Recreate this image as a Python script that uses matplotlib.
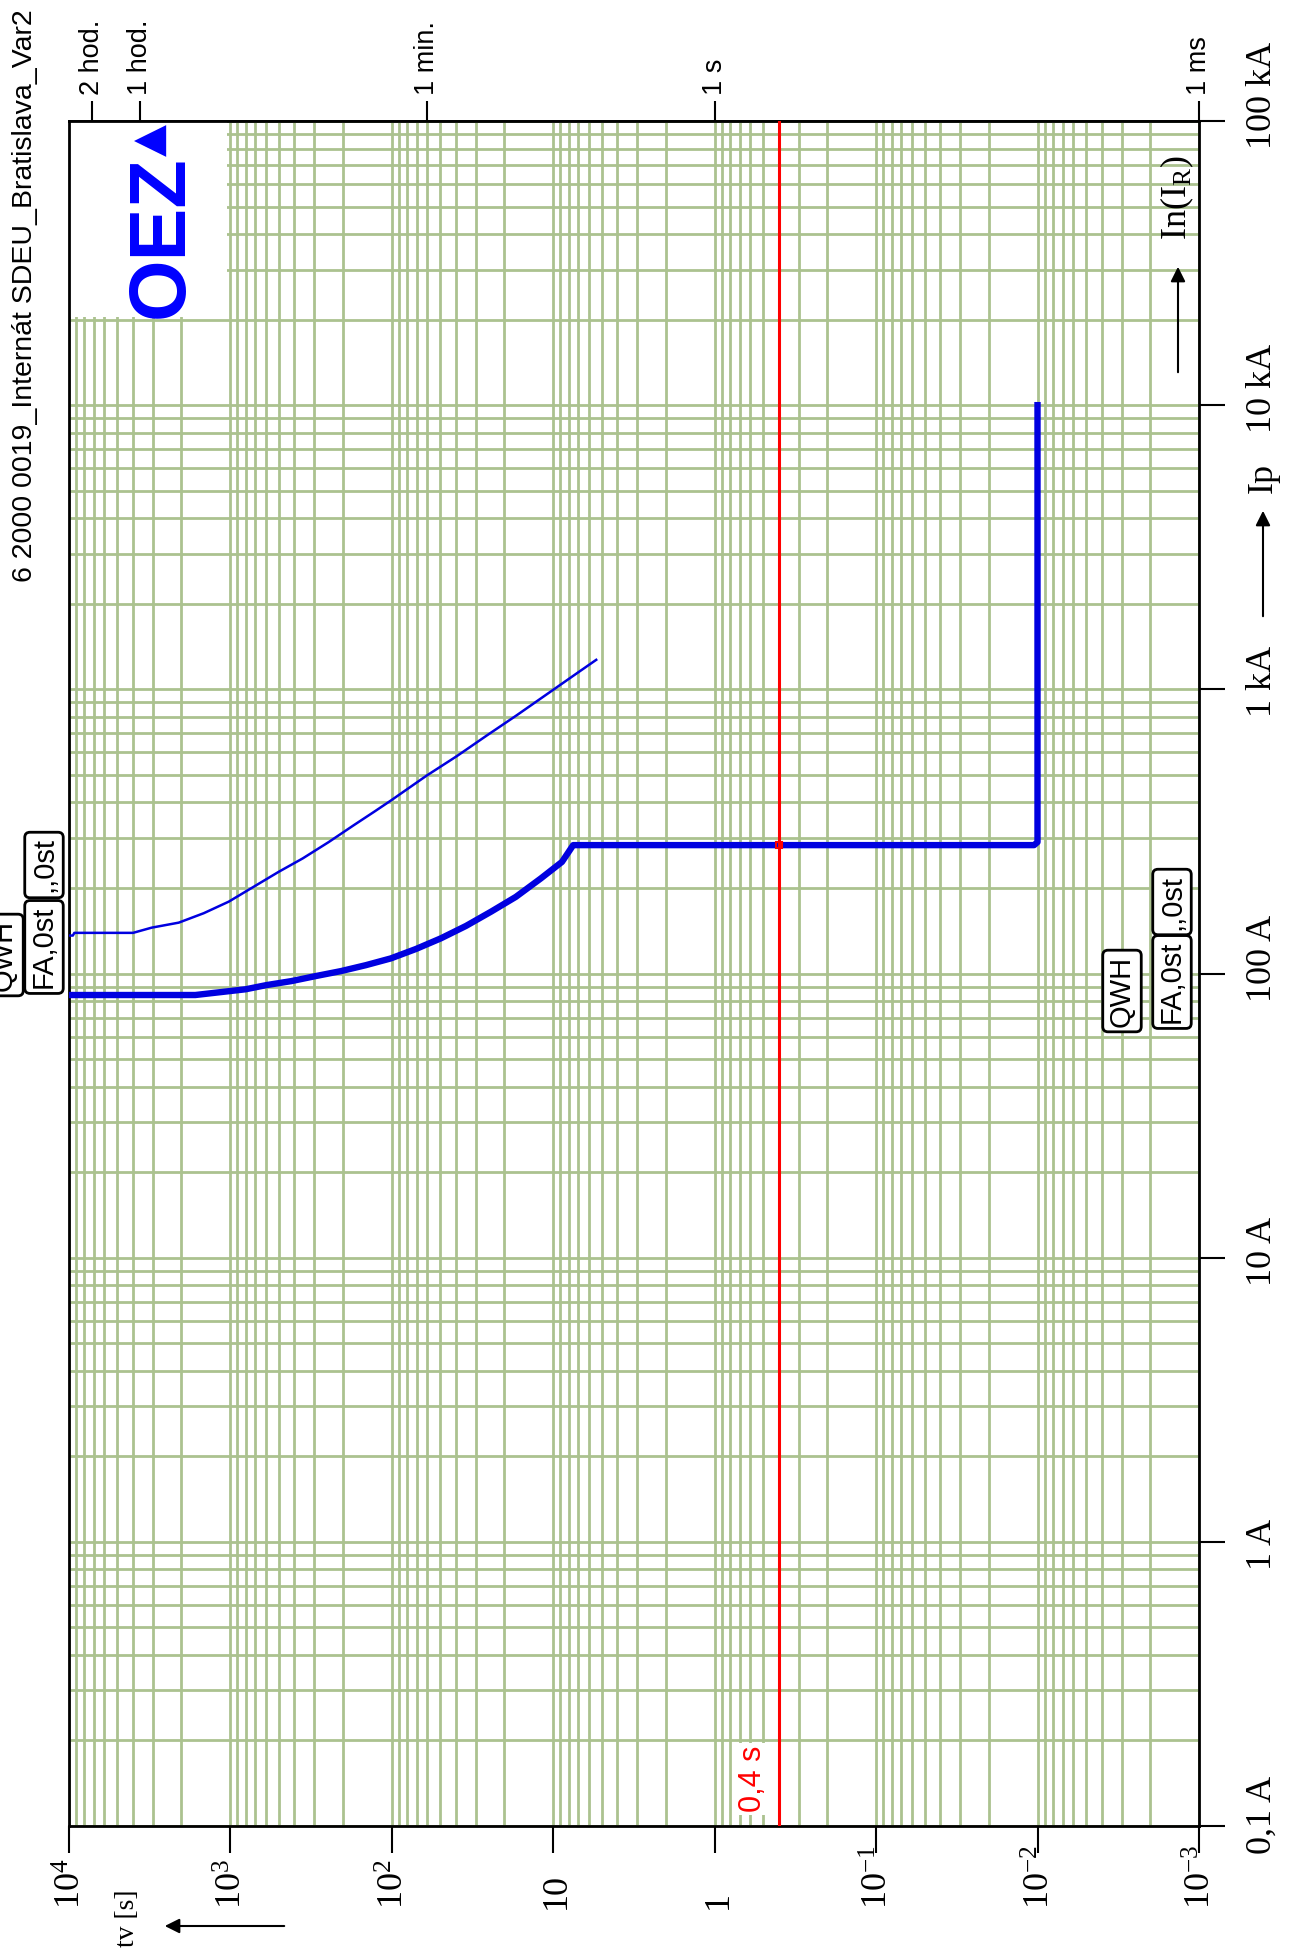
import numpy as np
import matplotlib
matplotlib.use('Agg')
import matplotlib.pyplot as plt
import matplotlib.font_manager as fm
from matplotlib.ticker import LogLocator, NullLocator
from matplotlib.patches import Rectangle

W, H = 1295, 1955

TITLE = '6 2000 0019_Internát SDEU_Bratislava_Var2'

# time axis (horizontal, log, decreasing to the right)
TIME_TICKS = [1e4, 1e3, 1e2, 1e1, 1, 1e-1, 1e-2, 1e-3]
TIME_LABELS = [r'$\mathregular{10^{4}}$', r'$\mathregular{10^{3}}$', r'$\mathregular{10^{2}}$',
               '10', '1', r'$\mathregular{10^{-1}}$', r'$\mathregular{10^{-2}}$',
               r'$\mathregular{10^{-3}}$']
TOP_TICKS = [7200, 3600, 60, 1, 0.001]
TOP_LABELS = ['2 hod.', '1 hod.', '1 min.', '1 s', '1 ms']

# current axis (vertical, log)
CURRENT_TICKS = [0.1, 1, 10, 100, 1e3, 1e4, 1e5]
CURRENT_LABELS = ['0,1 A', '1 A', '10 A', '100 A', '1 kA', '10 kA', '100 kA']

# FA,0st characteristic (thick)
THICK_T = [1e4, 1640, 800, 597, 418, 293, 205, 144, 101, 70.5, 49.4, 34.6, 24.2, 17.0,
           11.9, 8.8, 7.5, 0.0105, 0.01, 0.01]
THICK_I = [84, 84, 88, 91, 94, 98, 102, 107, 113, 122, 133, 147, 165, 186,
           216, 247, 283, 283, 290, 10000]

# upper band (thin)
THIN_T = [1e4, 9400, 9200, 3985, 3054, 2077, 1454, 1018, 713, 499, 355, 245, 172, 127,
          101, 60.6, 39.4, 25.7, 16.8, 10, 7.13, 5.4]
THIN_I = [136, 136, 139, 139, 145, 151, 163, 179, 202, 228, 254, 290, 332, 372,
          406, 497, 582, 688, 810, 995, 1138, 1270]

RED_T = 0.4
RED_I = 283

GRID = '#ABC28F'
BLUE = '#0000E0'

names = {f.name for f in fm.fontManager.ttflist}
if 'Liberation Sans Narrow' in names:
    NARROW, k = 'Liberation Sans Narrow', 1.0
else:
    NARROW, k = 'Liberation Sans', 0.82
SERIF = 'Liberation Serif'


def px(x, y):
    return x / W, 1 - y / H


fig = plt.figure(figsize=(W / 100, H / 100), dpi=100)
ax = fig.add_axes([68.5 / W, 1 - 1826 / H, (1199 - 68.5) / W, (1826 - 121) / H])
ax.set_xscale('log')
ax.set_yscale('log')
ax.set_xlim(1e4, 1e-3)
ax.set_ylim(0.1, 1e5)

for a in (ax.xaxis, ax.yaxis):
    a.set_major_locator(LogLocator(base=10, numticks=20))
    a.set_minor_locator(LogLocator(base=10, subs=np.arange(2, 10), numticks=20))
ax.set_axisbelow(True)
ax.grid(which='both', color=GRID, lw=2.0)

for s in ax.spines.values():
    s.set_linewidth(2)
ax.tick_params(which='minor', length=0)
ax.tick_params(axis='x', which='major', bottom=True, top=False, labelbottom=False,
               length=19.4, width=1.5, direction='out')
ax.tick_params(axis='y', which='major', left=False, right=True, labelleft=False,
               labelright=False, length=18.7, width=1.5, direction='out')

# white box behind the logo
ax.add_patch(Rectangle((1.05e3, 2.05e4), 1e4 - 1.05e3, 1e5 - 2.05e4,
                       facecolor='white', edgecolor='none', zorder=1))

# curves
ax.plot(THIN_T, THIN_I, color=BLUE, lw=1.8, zorder=3)
ax.plot(THICK_T, THICK_I, color=BLUE, lw=4.6, zorder=3)
ax.axvline(RED_T, color='#FF0000', lw=2.2, zorder=4)
ax.plot(RED_T, RED_I, marker='s', ms=5, mfc='none', mec='#FF0000', mew=1.5, zorder=5)
ax.annotate('0,4 s', xy=(RED_T, 0.1), xytext=(-18.7, 10), textcoords='offset points',
            rotation=90, rotation_mode='anchor', ha='left', va='center',
            color='#FF0000', family=NARROW, fontsize=22 if k < 1 else 25,
            bbox=dict(facecolor='white', edgecolor='none', pad=2), zorder=4)

# top axis: hours / minutes / seconds
sec = ax.secondary_xaxis('top')
sec.set_xticks(TOP_TICKS)
sec.set_xticklabels(TOP_LABELS, family=NARROW, fontsize=23.8 * k)
sec.xaxis.set_minor_locator(NullLocator())
sec.tick_params(length=14.4, width=1.5, direction='out', labelrotation=90, pad=4)
sec.spines['top'].set_linewidth(2)

# bottom labels (time)
for t, lab in zip(TIME_TICKS, TIME_LABELS):
    ax.annotate(lab, xy=(t, 0), xycoords=('data', 'axes fraction'),
                xytext=(8.6, -59.8), textcoords='offset points',
                rotation=90, rotation_mode='anchor', ha='left', va='baseline',
                family=SERIF, fontsize=26)

# right labels (current)
for c, lab in zip(CURRENT_TICKS, CURRENT_LABELS):
    ax.annotate(lab, xy=(1, c), xycoords=('axes fraction', 'data'),
                xytext=(45.4, -20.2), textcoords='offset points',
                rotation=90, rotation_mode='anchor', ha='left', va='center',
                family=SERIF, fontsize=26)

# title, axis names, arrows
fig.text(*px(25, 582), TITLE, rotation=90, rotation_mode='anchor', ha='left',
         va='center', family='Liberation Sans', fontsize=20.5)
fig.text(*px(128, 1947), 'tv [s]', rotation=90, rotation_mode='anchor', ha='left',
         va='center', family=SERIF, fontsize=20)
arrow = dict(arrowstyle='-|>', color='black', lw=1.5, mutation_scale=22)
ax.annotate('', xy=(162, H - 1926), xycoords='figure pixels',
            xytext=(287, H - 1926), textcoords='figure pixels', arrowprops=arrow)
ax.annotate('', xy=(1263, H - 508), xycoords='figure pixels',
            xytext=(1263, H - 619), textcoords='figure pixels', arrowprops=arrow)
fig.text(*px(1263, 478), 'Ip', rotation=90, rotation_mode='anchor', ha='center',
         va='center', family=SERIF, fontsize=26)
ax.annotate('', xy=(1178, H - 264), xycoords='figure pixels',
            xytext=(1178, H - 375), textcoords='figure pixels', arrowprops=arrow)
fig.text(*px(1177, 198), r'In(I$\mathregular{_R}$)', rotation=90, rotation_mode='anchor',
         ha='center', va='center', family=SERIF, fontsize=26)

# logo
fig.text(*px(183, 237), 'OEZ', rotation=90, rotation_mode='anchor', ha='center',
         va='baseline', color='#0000FF', family=NARROW, weight='bold',
         fontsize=57 if k < 1 else 68)
fig.text(*px(163, 140), '▲', rotation=90, rotation_mode='anchor', ha='center',
         va='baseline', color='#0000FF', family='DejaVu Sans', fontsize=30)

# device tags
tag_box = dict(boxstyle='round,pad=0.18', facecolor='white', edgecolor='black', lw=2)
tags = [(',,0st', 44, 865), ('FA,0st', 44, 947), ('QWH', 4, 955),
        ('QWH', 1122, 991), ('FA,0st', 1172, 982), (',,0st', 1172, 902)]
for txt, x, y in tags:
    fig.text(*px(x, y), txt, rotation=90, rotation_mode='anchor', ha='center',
             va='center', family=NARROW, fontsize=21 if k < 1 else 24,
             bbox=tag_box, zorder=6)

fig.savefig('out.png', dpi=100)
